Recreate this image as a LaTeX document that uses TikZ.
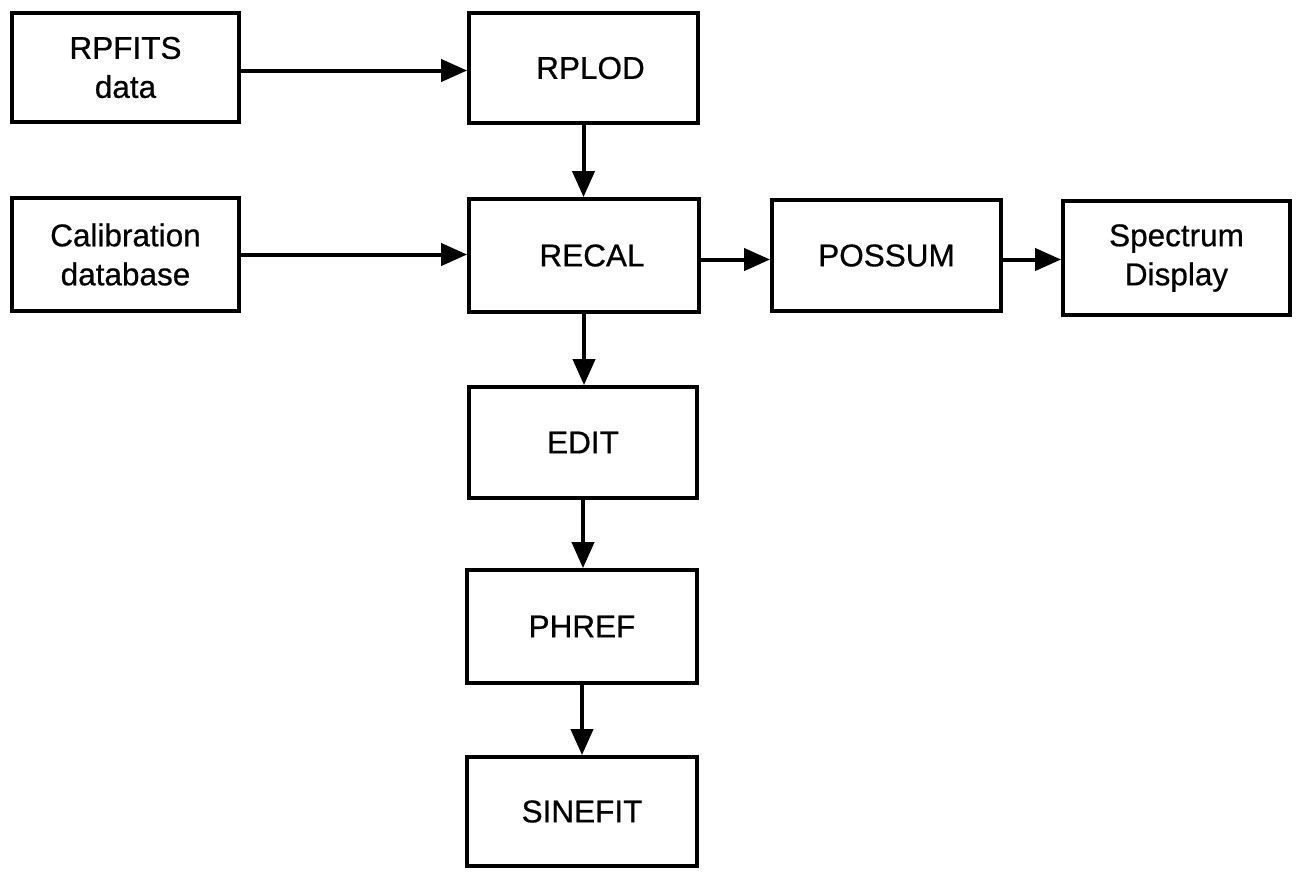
\documentclass[tikz,border=0pt]{standalone}
\usepackage{fontspec}
\setmainfont{Liberation Sans}
\newfontfamily\labelfont{Liberation Sans}[FakeBold=0.6]
\usetikzlibrary{arrows.meta}
\begin{document}
\begin{tikzpicture}[x=1pt,y=-1pt,
  box/.style={draw,line width=3.8pt,align=center,inner sep=0pt,
    font=\labelfont\fontsize{31.5}{39}\selectfont},
  flow/.style={line width=4pt,-{Triangle[length=26pt,width=22pt]}}]
\useasboundingbox (0,0) rectangle (1297,871);
% processing boxes
\node[box,minimum width=227pt,minimum height=109pt] (rpfits) at (125.5,67.5) {RPFITS\\data};
\node[box,minimum width=227pt,minimum height=113pt] (calib) at (125.5,254.5) {Calibration\\database};
\node[box,minimum width=229pt,minimum height=110pt] (rplod) at (583.5,68) {\hspace*{14pt}RPLOD};
\node[box,minimum width=230pt,minimum height=113pt] (recal) at (584,255.5) {\hspace*{16pt}RECAL};
\node[box,minimum width=229pt,minimum height=111pt] (possum) at (886.5,255.5) {POSSUM};
\node[box,minimum width=227pt,minimum height=114pt] (spec) at (1176.5,258) {Spectrum\\Display};
\node[box,minimum width=228pt,minimum height=111pt] (edit) at (583,442.5) {EDIT};
\node[box,minimum width=230pt,minimum height=113pt] (phref) at (582,626.5) {PHREF};
\node[box,minimum width=230pt,minimum height=109pt] (sinefit) at (582,811.5) {SINEFIT};
% data flow
\draw[flow] ([yshift=-3pt]rpfits.east) -- ([yshift=-3pt]rpfits.east -| rplod.west);
\draw[flow] (calib.east) -- (calib.east -| recal.west);
\draw[flow] (rplod.south) -- (rplod.south |- recal.north);
\draw[flow] ([yshift=-4pt]recal.east) -- ([yshift=-4pt]recal.east -| possum.west);
\draw[flow] ([yshift=-4pt]possum.east) -- ([yshift=-4pt]possum.east -| spec.west);
\draw[flow] (recal.south) -- (recal.south |- edit.north);
\draw[flow] (edit.south) -- (edit.south |- phref.north);
\draw[flow] (phref.south) -- (phref.south |- sinefit.north);
\end{tikzpicture}
\end{document}
